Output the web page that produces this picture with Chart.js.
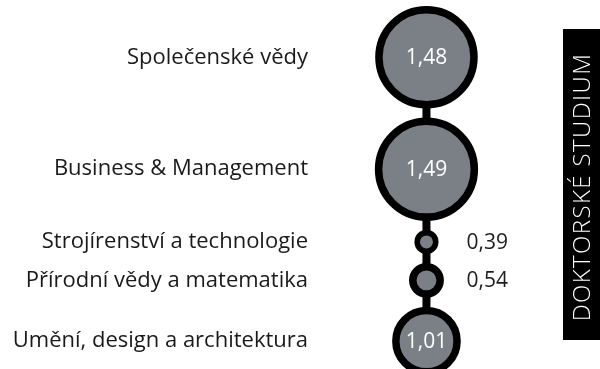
<!DOCTYPE html>
<html>
<head>
<meta charset="utf-8">
<script src="https://cdn.jsdelivr.net/npm/chart.js@4/dist/chart.umd.min.js"></script>
<style>
  body { margin: 0; background: #fff; }
  #wrap { width: 600px; height: 369px; position: relative; }
</style>
</head>
<body>
<div id="wrap"><canvas id="chart"></canvas></div>
<script>
// Data
const categories = [
    'Společenské vědy',
    'Business & Management',
    'Strojírenství a technologie',
    'Přírodní vědy a matematika',
    'Umění, design a architektura'
];
const values = [1.48, 1.49, 0.39, 0.54, 1.01];
const sideTitle = 'DOKTORSKÉ STUDIUM';

// Bubble look
const BORDER = 7.5;
const GAP = 9;       // space between neighbouring bubbles
const TOP = 6;       // space above the first bubble

// outer radius in px grows with the value
function outerRadius(v) {
    return 36 * v - 2;
}

// thinner ring on the very small bubbles
function ringWidth(v) {
    return Math.min(BORDER, outerRadius(v) * 0.46);
}

// stack the bubbles from top to bottom, each one touching the next with a small gap
const centers = [];
values.forEach(function (v, i) {
    if (i === 0) {
        centers.push(TOP + outerRadius(v));
    } else {
        centers.push(centers[i - 1] + outerRadius(values[i - 1]) + GAP + outerRadius(v));
    }
});

function fmt(v) {
    return v.toFixed(2).replace('.', ',');
}

const points = values.map(function (v, i) {
    return { x: 0, y: centers[i] };
});

const valueLabels = {
    id: 'valueLabels',
    afterDatasetsDraw(chart) {
        const ctx = chart.ctx;
        const meta = chart.getDatasetMeta(0);
        ctx.save();
        ctx.textBaseline = 'middle';
        meta.data.forEach(function (pt, i) {
            const v = values[i];
            ctx.font = '21px "Open Sans"';
            if (outerRadius(v) > 30) {
                ctx.fillStyle = '#ffffff';
                ctx.textAlign = 'center';
                ctx.fillText(fmt(v), pt.x, pt.y + 1);
            } else {
                ctx.fillStyle = '#1e1e1e';
                ctx.textAlign = 'left';
                ctx.fillText(fmt(v), pt.x + 40, pt.y + 1);
            }
        });
        ctx.restore();
    }
};

const sideBox = {
    id: 'sideBox',
    afterDraw(chart) {
        const ctx = chart.ctx;
        ctx.save();
        ctx.fillStyle = '#000';
        ctx.fillRect(563, 29, 37, 311);
        ctx.translate(583, 187);
        ctx.rotate(-Math.PI / 2);
        ctx.fillStyle = '#fff';
        ctx.font = '300 24px "Open Sans"';
        ctx.letterSpacing = '1.4px';
        ctx.textAlign = 'center';
        ctx.textBaseline = 'middle';
        ctx.fillText(sideTitle, 0, 0);
        ctx.restore();
    }
};

const ctx = document.getElementById('chart').getContext('2d');
new Chart(ctx, {
    type: 'bubble',
    data: {
        datasets: [{
            type: 'bubble',
            data: points,
            order: 0,
            backgroundColor: '#7b8086',
            borderColor: '#000000',
            borderWidth: function (c) {
                return ringWidth(values[c.dataIndex]);
            },
            hoverBorderWidth: function (c) {
                return ringWidth(values[c.dataIndex]);
            },
            radius: function (c) {
                const v = values[c.dataIndex];
                return outerRadius(v) - ringWidth(v) / 2;
            },
            clip: false
        }, {
            type: 'line',
            data: points,
            order: 1,
            borderColor: '#000000',
            borderWidth: 8,
            pointRadius: 0,
            fill: false,
            clip: false
        }]
    },
    options: {
        responsive: true,
        maintainAspectRatio: false,
        devicePixelRatio: 1,
        animation: false,
        layout: { padding: 0, autoPadding: false },
        plugins: {
            legend: { display: false },
            tooltip: { enabled: false }
        },
        scales: {
            x: {
                type: 'linear',
                display: false,
                min: -1,
                max: 1.6
            },
            y: {
                type: 'linear',
                reverse: true,
                min: 0,
                max: 369,
                position: 'left',
                grid: { display: false, drawTicks: false },
                border: { display: false },
                afterBuildTicks: function (scale) {
                    scale.ticks = centers.map(function (c) { return { value: c }; });
                },
                afterFit: function (scale) {
                    scale.width = 318;
                    scale.paddingTop = 0;
                    scale.paddingBottom = 0;
                },
                ticks: {
                    autoSkip: false,
                    padding: 10,
                    color: '#1a1a1a',
                    font: { family: '"Open Sans"', size: 22 },
                    callback: function (value, index) {
                        return categories[index];
                    }
                }
            }
        }
    },
    plugins: [valueLabels, sideBox]
});
</script>
</body>
</html>
